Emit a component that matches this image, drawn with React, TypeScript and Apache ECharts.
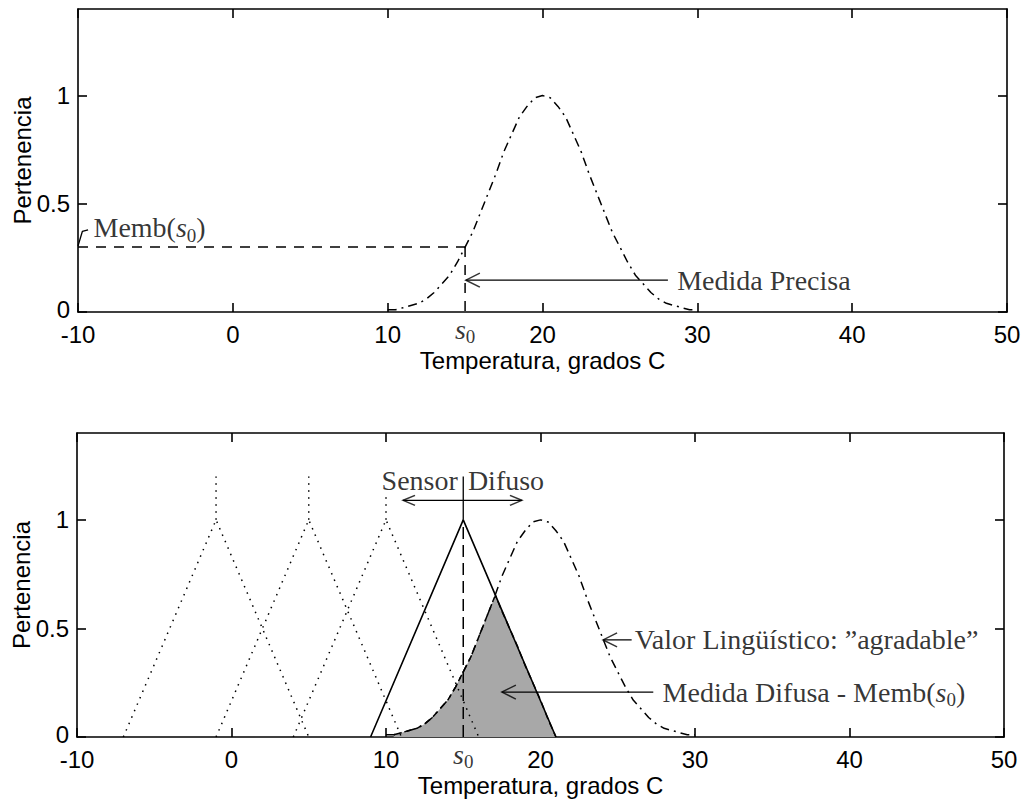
import React, { useEffect, useRef } from "react";
import * as echarts from "echarts";

// ---- data ----
const xTickLabels = [-10, 0, 10, 20, 30, 40, 50];
const yTickLabels = [0, 0.5, 1];
const s0 = 15;
const membS0 = 0.3;

// "agradable" membership curve (dash-dot)
const bellX = [10, 10.5, 11, 11.5, 12, 12.5, 13, 13.5, 14, 14.5, 15, 15.5, 16, 16.5, 17, 17.5, 18, 18.5, 19, 19.5, 20, 20.5, 21, 21.5, 22, 22.5, 23, 23.5, 24, 24.5, 25, 25.5, 26, 26.5, 27, 27.5, 28, 28.5, 29, 29.5, 30];
const bellY = [0.01, 0.01, 0.02, 0.03, 0.04, 0.06, 0.09, 0.13, 0.17, 0.23, 0.3, 0.37, 0.46, 0.55, 0.64, 0.74, 0.82, 0.9, 0.95, 0.99, 1.0, 0.99, 0.95, 0.9, 0.82, 0.74, 0.64, 0.55, 0.46, 0.37, 0.3, 0.23, 0.17, 0.13, 0.09, 0.06, 0.04, 0.03, 0.02, 0.01, 0.01];

// dotted triangular sets
const lowSetsX = [
  [-7, -1, 5],
  [-1, 5, 11],
  [4, 10, 16],
];
const triY = [0, 1, 0];
const lowSpikeTop = [1.2, 1.2, 1.12];

// fuzzy sensor (solid triangle)
const sensorX = [9, 15, 21];
const sensorSpikeTop = 1.2;

// fuzzy measure: min(sensor, agradable) (shaded)
const fuzzyX = [10.5, 11, 11.5, 12, 12.5, 13, 13.5, 14, 14.5, 15, 15.5, 16, 16.5, 17, 17.1, 17.5, 18, 18.5, 19, 19.5, 20, 20.5, 21];
const fuzzyY = [0.01, 0.02, 0.03, 0.04, 0.06, 0.09, 0.13, 0.17, 0.23, 0.3, 0.37, 0.46, 0.55, 0.64, 0.65, 0.58, 0.5, 0.42, 0.33, 0.25, 0.17, 0.08, 0];

// ---- annotation placement (data coordinates) ----
const membHook = { x: [-10, -9.72, -9.35], y: [0.305, 0.372, 0.38] };
const membLabelPos = [-9.0, 0.39];
const preciseArrow = { tip: 15.05, end: 28.1, y: 0.147, textX: 28.7 };
const sensorArrow = { left: 11.1, right: 18.8, y: 1.09, textY: 1.18, leftTextX: 14.65, rightTextX: 15.3 };
const valorArrow = { tip: 24.05, end: 25.9, y: 0.447, textX: 26.1 };
const difusaArrow = { tip: 17.5, end: 27.3, y: 0.207, textX: 27.9 };

const SANS = "Liberation Sans";
const SERIF = "Liberation Serif";
const BLACK = "#000";

const serifRich = {
  r: { fontFamily: SERIF, fontSize: 28, color: BLACK, lineHeight: 34 },
  i: { fontFamily: SERIF, fontSize: 28, fontStyle: "italic", color: BLACK, lineHeight: 34 },
  sub: { fontFamily: SERIF, fontSize: 19, color: BLACK, lineHeight: 34, verticalAlign: "bottom" },
};

function pairs(xs: number[], ys: number[]) {
  return xs.map((x, i) => [x, ys[i]]);
}

function lineSeries(g: number, data: any[], style: any, z = 3, extra: any = {}) {
  return {
    type: "line",
    xAxisIndex: g * 2,
    yAxisIndex: g * 2,
    data,
    symbol: "none",
    silent: true,
    z,
    lineStyle: { color: BLACK, width: 1.5, ...style },
    ...extra,
  };
}

function textSeries(g: number, pos: number[], text: string, side: string, distance = 0) {
  return {
    type: "scatter",
    xAxisIndex: g * 2,
    yAxisIndex: g * 2,
    data: [pos],
    symbolSize: 0,
    silent: true,
    clip: false,
    z: 6,
    itemStyle: { color: "transparent" },
    label: {
      show: true,
      position: side,
      distance,
      formatter: text,
      rich: serifRich,
    },
  };
}

function chevron(g: number, pos: number[], dir: "left" | "right", size: number[]) {
  const [w, h] = size;
  return {
    type: "scatter",
    xAxisIndex: g * 2,
    yAxisIndex: g * 2,
    data: [pos],
    symbol: dir === "left" ? "path://M14,0 L0,7 L14,14" : "path://M0,0 L14,7 L0,14",
    symbolSize: [w, h],
    symbolOffset: [dir === "left" ? w / 2 : -w / 2, 0],
    silent: true,
    z: 6,
    itemStyle: { color: "none", borderColor: BLACK, borderWidth: 1.5 },
  };
}

const axisLineStyle = { color: BLACK, width: 1.6 };

function xBottom(g: number) {
  return {
    type: "value",
    gridIndex: g,
    position: "bottom",
    min: -10,
    max: 50,
    interval: 10,
    axisLine: { show: true, onZero: false, lineStyle: axisLineStyle },
    axisTick: { show: true, inside: true, length: 9, lineStyle: axisLineStyle },
    axisLabel: {
      show: true,
      customValues: xTickLabels,
      margin: 10,
      lineHeight: 24,
      color: BLACK,
      fontSize: 24,
      fontFamily: SANS,
    },
    splitLine: { show: false },
    name: "Temperatura, grados C",
    nameLocation: "middle",
    nameGap: 36,
    nameMoveOverlap: false,
    nameTextStyle: { fontSize: 24, lineHeight: 24, fontFamily: SANS, color: BLACK },
  };
}

function xTop(g: number) {
  return {
    type: "value",
    gridIndex: g,
    position: "top",
    min: -10,
    max: 50,
    interval: 10,
    axisLine: { show: true, onZero: false, lineStyle: axisLineStyle },
    axisTick: { show: true, inside: true, length: 9, lineStyle: axisLineStyle },
    axisLabel: { show: false },
    splitLine: { show: false },
  };
}

function yLeft(g: number) {
  return {
    type: "value",
    gridIndex: g,
    position: "left",
    min: 0,
    max: 1.4,
    axisLine: { show: true, onZero: false, lineStyle: axisLineStyle },
    axisTick: { show: true, inside: true, length: 9, customValues: yTickLabels, lineStyle: axisLineStyle },
    axisLabel: {
      show: true,
      customValues: yTickLabels,
      margin: 8,
      lineHeight: 18,
      color: BLACK,
      fontSize: 24,
      fontFamily: SANS,
      formatter: (v: number) => (v > 1.05 ? "" : v === 0 ? "{z|0}" : String(v)),
      rich: {
        z: { fontSize: 24, fontFamily: SANS, color: BLACK, lineHeight: 18, padding: [0, 0, 6, 0] },
      },
    },
    splitLine: { show: false },
    name: "Pertenencia",
    nameLocation: "middle",
    nameGap: 44,
    nameMoveOverlap: false,
    nameTextStyle: { fontSize: 24, fontFamily: SANS, color: BLACK },
  };
}

function yRight(g: number) {
  return {
    type: "value",
    gridIndex: g,
    position: "right",
    min: 0,
    max: 1.4,
    axisLine: { show: true, onZero: false, lineStyle: axisLineStyle },
    axisTick: { show: true, inside: true, length: 9, customValues: yTickLabels, lineStyle: axisLineStyle },
    axisLabel: { show: false },
    splitLine: { show: false },
  };
}

const dashDot = { type: [9, 5, 2, 5] };
const dashed = { type: [10, 8] };
const dotted = { type: [1.5, 5.5] };

function buildOption() {
  const series: any[] = [];

  // ---------- top plot ----------
  series.push(lineSeries(0, pairs(bellX, bellY), dashDot));
  series.push(lineSeries(0, [[-10, membS0], [s0, membS0]], dashed));
  series.push(lineSeries(0, [[s0, membS0], [s0, 0]], dashed));
  series.push(lineSeries(0, pairs(membHook.x, membHook.y), { width: 1.3 }));
  series.push(textSeries(0, membLabelPos, "{r|Memb(}{i|s}{sub|0}{r|)}", "right"));
  series.push(lineSeries(0, [[preciseArrow.tip, preciseArrow.y], [preciseArrow.end, preciseArrow.y]], { width: 1.3 }));
  series.push(chevron(0, [preciseArrow.tip, preciseArrow.y], "left", [14, 14]));
  series.push(textSeries(0, [preciseArrow.textX, preciseArrow.y], "{r|Medida Precisa}", "right"));
  series.push(textSeries(0, [s0, 0], "{i|s}{sub|0}", "bottom", 0));

  // ---------- bottom plot ----------
  series.push(
    lineSeries(1, pairs(fuzzyX, fuzzyY), { type: [7, 4], width: 1.5 }, 2, {
      areaStyle: { color: "#a8a8a8", opacity: 1 },
    })
  );
  lowSetsX.forEach((xs, k) => {
    series.push(lineSeries(1, pairs(xs, triY), dotted));
    series.push(lineSeries(1, [[xs[1], 1], [xs[1], lowSpikeTop[k]]], dotted));
  });
  series.push(lineSeries(1, pairs(sensorX, triY), { width: 1.6 }, 4));
  series.push(lineSeries(1, [[s0, 1], [s0, sensorSpikeTop]], { width: 1.3 }, 4));
  series.push(lineSeries(1, [[s0, 0], [s0, 1]], { type: [12, 6] }, 4));
  series.push(lineSeries(1, pairs(bellX, bellY), dashDot));
  series.push(textSeries(1, [s0, 0], "{i|s}{sub|0}", "bottom", 0));

  // Sensor Difuso
  series.push(lineSeries(1, [[sensorArrow.left, sensorArrow.y], [sensorArrow.right, sensorArrow.y]], { width: 1.3 }));
  series.push(chevron(1, [sensorArrow.left, sensorArrow.y], "left", [12, 10]));
  series.push(chevron(1, [sensorArrow.right, sensorArrow.y], "right", [12, 10]));
  series.push(textSeries(1, [sensorArrow.leftTextX, sensorArrow.textY], "{r|Sensor}", "left"));
  series.push(textSeries(1, [sensorArrow.rightTextX, sensorArrow.textY], "{r|Difuso}", "right"));

  // Valor Lingüístico
  series.push(lineSeries(1, [[valorArrow.tip, valorArrow.y], [valorArrow.end, valorArrow.y]], { width: 1.3 }));
  series.push(chevron(1, [valorArrow.tip, valorArrow.y], "left", [14, 14]));
  series.push(textSeries(1, [valorArrow.textX, valorArrow.y], "{r|Valor Lingüístico: ”agradable”}", "right"));

  // Medida Difusa
  series.push(lineSeries(1, [[difusaArrow.tip, difusaArrow.y], [difusaArrow.end, difusaArrow.y]], { width: 1.3 }));
  series.push(chevron(1, [difusaArrow.tip, difusaArrow.y], "left", [14, 14]));
  series.push(textSeries(1, [difusaArrow.textX, difusaArrow.y], "{r|Medida Difusa - Memb(}{i|s}{sub|0}{r|)}", "right"));

  return {
    animation: false,
    backgroundColor: "#fff",
    grid: [
      { left: 78, top: 9, width: 929, height: 303, show: false, outerBoundsMode: "none", containLabel: false },
      { left: 77, top: 433, width: 927, height: 304, show: false, outerBoundsMode: "none", containLabel: false },
    ],
    xAxis: [xBottom(0), xTop(0), xBottom(1), xTop(1)],
    yAxis: [yLeft(0), yRight(0), yLeft(1), yRight(1)],
    series,
  };
}

export default function App() {
  const ref = useRef<HTMLDivElement>(null);
  useEffect(() => {
    if (!ref.current) return;
    const chart = echarts.init(ref.current, undefined, { renderer: "svg" });
    chart.setOption(buildOption() as any);
    return () => chart.dispose();
  }, []);
  return (
    <div
      ref={ref}
      style={{ position: "absolute", left: 0, top: 0, width: 1033, height: 800, background: "#fff" }}
    />
  );
}
